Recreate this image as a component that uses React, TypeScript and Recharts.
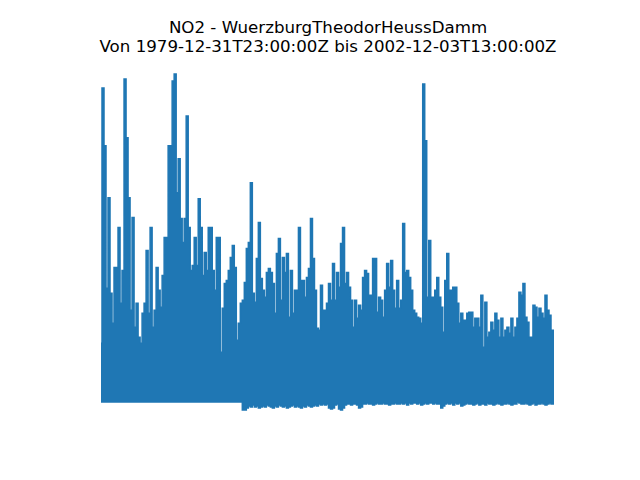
import React from 'react';
import { AreaChart, Area, XAxis, YAxis } from 'recharts';

const title = 'NO2 - WuerzburgTheodorHeussDamm';
const subtitle = 'Von 1979-12-31T23:00:00Z bis 2002-12-03T13:00:00Z';

// highest reading per time slice, oldest first
const peaks = [
  59, 315, 257, 114, 205, 109, 79, 135, 135, 175, 99, 132, 324, 265, 205, 92, 185, 75, 99, 65,
  59, 89, 99, 152, 89, 175, 75, 92, 135, 112, 95, 127, 165, 165, 257, 257, 322, 329, 210, 244,
  184, 160, 184, 287, 175, 132, 137, 165, 137, 204, 175, 127, 150, 132, 175, 175, 132, 112, 165, 165,
  50, 94, 119, 122, 132, 145, 157, 135, 62, 79, 99, 102, 120, 154, 160, 220, 109, 100, 144, 180,
  124, 112, 105, 130, 134, 130, 119, 89, 149, 164, 102, 145, 130, 149, 85, 132, 89, 112, 112, 175,
  122, 122, 105, 125, 134, 184, 144, 112, 74, 72, 117, 92, 92, 99, 119, 102, 139, 102, 130, 115,
  159, 175, 119, 130, 115, 102, 75, 102, 84, 97, 92, 125, 132, 129, 107, 107, 144, 144, 90, 105,
  102, 85, 112, 139, 115, 142, 112, 94, 122, 94, 102, 179, 130, 132, 125, 112, 92, 89, 85, 84,
  79, 319, 262, 105, 162, 105, 105, 112, 125, 105, 95, 70, 122, 149, 112, 112, 115, 115, 99, 79,
  89, 82, 82, 89, 90, 90, 75, 84, 84, 75, 107, 55, 100, 65, 70, 80, 72, 89, 82, 65,
  84, 65, 72, 75, 69, 84, 65, 75, 84, 110, 107, 119, 85, 80, 65, 65, 97, 95, 85, 94,
  89, 84, 107, 92, 87, 72, 72,
];

// lowest reading per time slice
const lows = [
  0, 0, 0, 0, 0, 0, 0, 0, 0, 0, 0, 0, 0, 0, 0, 0, 0, 0, 0, 0,
  0, 0, 0, 0, 0, 0, 0, 0, 0, 0, 0, 0, 0, 0, 0, 0, 0, 0, 0, 0,
  0, 0, 0, 0, 0, 0, 0, 0, 0, 0, 0, 0, 0, 0, 0, 0, 0, 0, 0, 0,
  0, 0, 0, 0, 0, 0, 0, 0, 0, 0, 0,
  -8, -8, -6,
  -4, -5, -3, -5, -4, -6, -5, -4, -5, -3, -4, -5, -6, -4, -5, -3, -4, -5, -4, -6,
  -5, -4, -3, -5, -4, -5, -6, -4, -5, -3, -4, -5, -4, -3, -4,
  -2, -3, -2, -3, -2, -6, -7, -6, -3, -2, -7, -8, -6, -3, -2, -2, -3, -2, -2, -3,
  -6, -5, -2, -2, -1, -2, -2, -3, -2, -1, -2, -2, -1, -2, -2, -3, -2, -2, -1, -2, -2,
  -1, -2, -1, -3, -1, -2, -1, -1, -2, -1, -3, -2, -1, -2, -1, -1, -2, -1, -2, -2,
  -6, -4, -2, -1, -2, -1, -3, -1, -2, -1, -4, -3, -2, -1, -2,
  -2, -3, -2, -1, -3, -2, -2, -3, -1, -2, -2, -3, -2, -1, -2, -3, -2, -2, -1, -2,
  -3, -2, -2, 0, -1, -2, -2, -1, -2, -3, -2, -1, -3, -2, -2, -1, -2, -3, -2, -1, -2, -2,
];

const data = peaks.map((p, k) => ({ i: k, no2: [lows[k] ?? 0, p] }));

export default function App() {
  return (
    <div style={{ position: 'absolute', left: 0, top: 0, width: 640, height: 480, background: '#fff' }}>
      <AreaChart
        width={640}
        height={480}
        data={data}
        margin={{ top: 74, right: 86, bottom: 70, left: 101 }}
      >
        <XAxis dataKey="i" type="number" domain={[0, data.length - 1]} hide />
        <YAxis type="number" domain={[-8, 329]} hide />
        <Area
          type="step"
          dataKey="no2"
          stroke="#1f77b4"
          strokeWidth={1.5}
          fill="#1f77b4"
          fillOpacity={1}
          dot={false}
          activeDot={false}
          isAnimationActive={false}
        />
      </AreaChart>
      <svg
        width={640}
        height={480}
        style={{ position: 'absolute', left: 0, top: 0, pointerEvents: 'none' }}
      >
        <g fontFamily="DejaVu Sans" fontSize={16.67} fill="#000" textAnchor="middle">
          <text x={328} y={33}>{title}</text>
          <text x={328} y={52}>{subtitle}</text>
        </g>
      </svg>
    </div>
  );
}
